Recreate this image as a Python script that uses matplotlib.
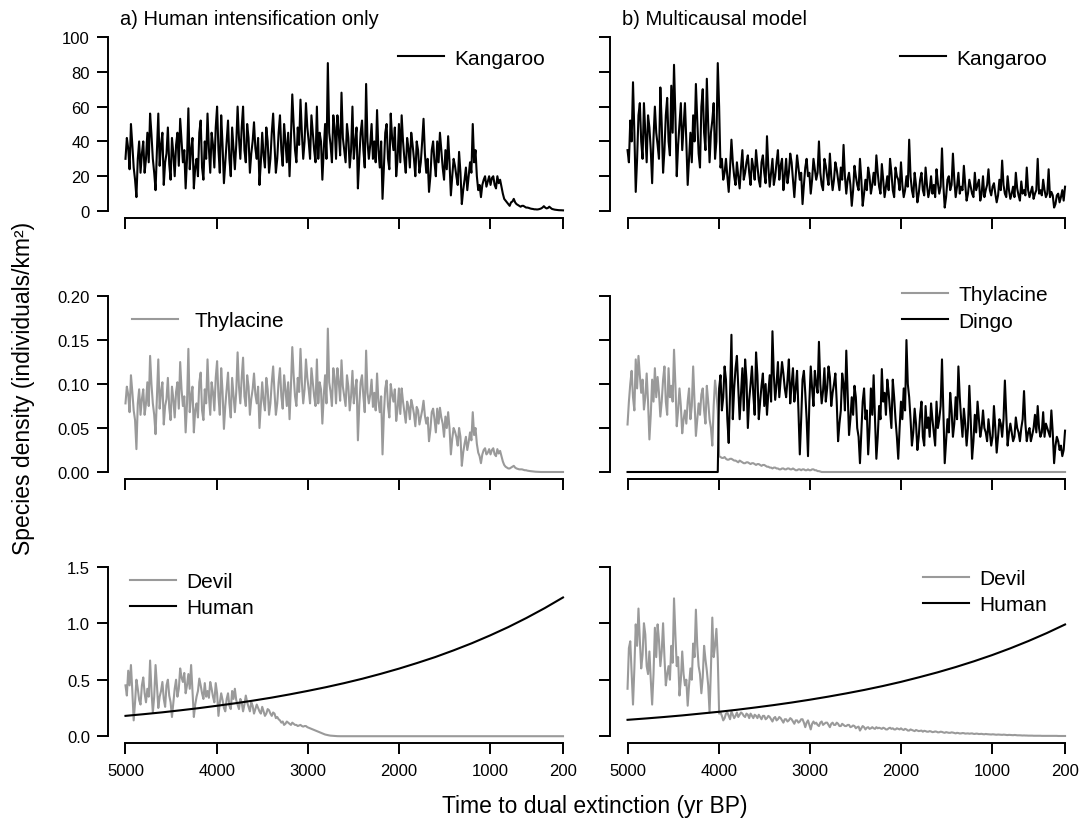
#!/usr/bin/env python3
"""Species density trajectories: human-only vs multicausal model."""

import numpy as np
import matplotlib
matplotlib.use('Agg')
import matplotlib.pyplot as plt
from matplotlib.ticker import FormatStrFormatter


GREY = '#9a9a9a'
BLACK = '#000000'

# years before present, first to last sample (time runs 5000 -> 200, every 15 yr)
T_START, T_END = 5000, 200

# a) human intensification only
kangaroo_a = [
    30, 42, 36, 24, 50, 38, 25, 18, 8, 30, 40, 22, 33, 40, 22, 30, 45, 28, 56, 44,
    30, 22, 12, 35, 56, 26, 38, 45, 15, 28, 33, 48, 27, 18, 42, 33, 20, 38, 45, 26,
    53, 40, 28, 35, 13, 30, 59, 24, 35, 42, 13, 25, 30, 20, 45, 52, 25, 18, 40, 30,
    56, 36, 22, 45, 38, 25, 48, 60, 35, 22, 55, 38, 16, 28, 40, 52, 30, 20, 48, 36,
    24, 38, 60, 42, 30, 48, 60, 35, 28, 50, 42, 22, 33, 40, 51, 36, 30, 42, 15, 28,
    45, 32, 25, 48, 40, 22, 30, 45, 56, 38, 22, 30, 45, 55, 35, 26, 50, 40, 28, 45,
    20, 42, 67, 50, 35, 28, 48, 38, 64, 45, 30, 40, 62, 48, 40, 30, 55, 45, 35, 28,
    60, 30, 45, 40, 18, 35, 50, 30, 85, 45, 38, 28, 55, 48, 30, 55, 45, 32, 68, 42,
    35, 28, 50, 42, 25, 35, 60, 30, 40, 48, 13, 30, 45, 52, 35, 25, 73, 40, 30, 38,
    50, 30, 40, 28, 58, 35, 25, 40, 7, 25, 45, 50, 30, 24, 56, 42, 35, 48, 20, 30,
    50, 28, 55, 40, 30, 22, 42, 36, 25, 45, 38, 30, 20, 40, 35, 22, 28, 40, 53, 33,
    22, 30, 11, 20, 35, 40, 28, 20, 40, 28, 45, 35, 25, 18, 35, 24, 43, 28, 9, 20,
    30, 26, 20, 15, 34, 22, 4, 12, 18, 25, 12, 20, 28, 22, 50, 28, 35, 20, 12, 15,
    8, 15, 18, 20, 14, 17, 20, 15, 19, 20, 15, 13, 20, 16, 18, 14, 10, 7, 6, 5,
    4, 3, 5, 5.5, 7, 5, 4, 3.5, 3, 2.5, 3, 3, 2.5, 2, 2, 1.8, 1.5, 1.3, 1.2, 1,
    1, 0.9, 1, 1.2, 1.5, 2, 2.8, 2, 1.5, 1.8, 2.5, 1.8, 1.2, 1, 0.8, 0.7, 0.6, 0.5, 0.5, 0.45,
    0.4,
]
thylacine_a = [
    0.078, 0.097, 0.088, 0.068, 0.110, 0.091, 0.070, 0.059, 0.026, 0.078,
    0.094, 0.065, 0.083, 0.094, 0.065, 0.078, 0.102, 0.075, 0.132, 0.100,
    0.078, 0.065, 0.043, 0.086, 0.128, 0.072, 0.091, 0.102, 0.054, 0.075,
    0.083, 0.107, 0.073, 0.059, 0.097, 0.083, 0.062, 0.091, 0.102, 0.072,
    0.125, 0.094, 0.075, 0.086, 0.045, 0.078, 0.140, 0.068, 0.086, 0.097,
    0.045, 0.070, 0.078, 0.062, 0.102, 0.113, 0.070, 0.059, 0.094, 0.078,
    0.128, 0.088, 0.065, 0.102, 0.091, 0.070, 0.107, 0.126, 0.086, 0.065,
    0.118, 0.091, 0.049, 0.075, 0.094, 0.113, 0.078, 0.062, 0.107, 0.088,
    0.068, 0.091, 0.136, 0.097, 0.078, 0.107, 0.130, 0.086, 0.075, 0.110,
    0.097, 0.065, 0.083, 0.094, 0.112, 0.088, 0.078, 0.097, 0.050, 0.075,
    0.102, 0.081, 0.070, 0.107, 0.094, 0.065, 0.078, 0.102, 0.120, 0.091,
    0.065, 0.078, 0.102, 0.118, 0.086, 0.072, 0.110, 0.094, 0.075, 0.102,
    0.060, 0.097, 0.142, 0.110, 0.086, 0.075, 0.107, 0.091, 0.140, 0.102,
    0.078, 0.094, 0.128, 0.107, 0.094, 0.078, 0.118, 0.102, 0.086, 0.075,
    0.128, 0.078, 0.102, 0.094, 0.055, 0.086, 0.110, 0.078, 0.163, 0.102,
    0.091, 0.075, 0.118, 0.107, 0.078, 0.118, 0.102, 0.081, 0.127, 0.097,
    0.086, 0.075, 0.110, 0.097, 0.070, 0.086, 0.115, 0.078, 0.094, 0.105,
    0.036, 0.076, 0.102, 0.110, 0.086, 0.068, 0.138, 0.090, 0.078, 0.088,
    0.105, 0.074, 0.090, 0.070, 0.112, 0.080, 0.068, 0.086, 0.020, 0.066,
    0.095, 0.104, 0.075, 0.062, 0.100, 0.088, 0.080, 0.094, 0.058, 0.072,
    0.095, 0.066, 0.095, 0.080, 0.068, 0.056, 0.080, 0.074, 0.060, 0.082,
    0.075, 0.066, 0.052, 0.074, 0.070, 0.054, 0.062, 0.070, 0.081, 0.064,
    0.055, 0.062, 0.035, 0.048, 0.068, 0.072, 0.060, 0.045, 0.072, 0.055,
    0.073, 0.062, 0.055, 0.040, 0.063, 0.050, 0.068, 0.050, 0.020, 0.038,
    0.050, 0.046, 0.040, 0.030, 0.050, 0.040, 0.007, 0.022, 0.032, 0.040,
    0.025, 0.034, 0.045, 0.036, 0.068, 0.042, 0.050, 0.032, 0.022, 0.018,
    0.010, 0.020, 0.025, 0.027, 0.020, 0.022, 0.026, 0.020, 0.025, 0.027,
    0.020, 0.018, 0.026, 0.021, 0.024, 0.018, 0.012, 0.008, 0.006, 0.005,
    0.004, 0.004, 0.005, 0.006, 0.007, 0.005, 0.004, 0.0035, 0.003, 0.003,
    0.003, 0.0025, 0.002, 0.002, 0.0015, 0.0012, 0.001, 0.0008, 0.0005, 0.0004,
    0.0003, 0.0002, 0, 0, 0, 0, 0, 0, 0, 0,
    0, 0, 0, 0, 0, 0, 0, 0, 0, 0,
    0,
]
devil_a = [
    0.45, 0.36, 0.58, 0.45, 0.63, 0.40, 0.14, 0.30, 0.50, 0.42,
    0.32, 0.28, 0.45, 0.52, 0.38, 0.30, 0.42, 0.35, 0.67, 0.40,
    0.21, 0.35, 0.63, 0.45, 0.25, 0.35, 0.40, 0.48, 0.33, 0.26,
    0.45, 0.50, 0.36, 0.30, 0.17, 0.30, 0.42, 0.50, 0.35, 0.42,
    0.60, 0.52, 0.48, 0.56, 0.38, 0.45, 0.55, 0.42, 0.63, 0.40,
    0.17, 0.28, 0.35, 0.40, 0.51, 0.45, 0.38, 0.33, 0.47, 0.35,
    0.40, 0.34, 0.48, 0.42, 0.35, 0.30, 0.47, 0.38, 0.18, 0.30,
    0.38, 0.32, 0.25, 0.22, 0.33, 0.38, 0.27, 0.24, 0.40, 0.33,
    0.42, 0.32, 0.28, 0.24, 0.33, 0.30, 0.22, 0.28, 0.36, 0.30,
    0.26, 0.22, 0.30, 0.27, 0.20, 0.24, 0.28, 0.25, 0.22, 0.20,
    0.26, 0.22, 0.18, 0.20, 0.24, 0.23, 0.20, 0.18, 0.21, 0.20,
    0.16, 0.17, 0.15, 0.14, 0.12, 0.13, 0.10, 0.11, 0.13, 0.12,
    0.11, 0.10, 0.12, 0.11, 0.10, 0.10, 0.09, 0.095, 0.10, 0.09,
    0.085, 0.09, 0.09, 0.08, 0.075, 0.07, 0.065, 0.06, 0.055, 0.05,
    0.045, 0.04, 0.035, 0.03, 0.025, 0.02, 0.015, 0.012, 0.009, 0.007,
    0.005, 0.004, 0.003, 0.002, 0.001, 0.0005, 0, 0, 0, 0,
    0, 0, 0, 0, 0, 0, 0, 0, 0, 0, 0, 0, 0, 0, 0, 0, 0, 0, 0, 0,
    0, 0, 0, 0, 0, 0, 0, 0, 0, 0, 0, 0, 0, 0, 0, 0, 0, 0, 0, 0,
    0, 0, 0, 0, 0, 0, 0, 0, 0, 0, 0, 0, 0, 0, 0, 0, 0, 0, 0, 0,
    0, 0, 0, 0, 0, 0, 0, 0, 0, 0, 0, 0, 0, 0, 0, 0, 0, 0, 0, 0,
    0, 0, 0, 0, 0, 0, 0, 0, 0, 0, 0, 0, 0, 0, 0, 0, 0, 0, 0, 0,
    0, 0, 0, 0, 0, 0, 0, 0, 0, 0, 0, 0, 0, 0, 0, 0, 0, 0, 0, 0,
    0, 0, 0, 0, 0, 0, 0, 0, 0, 0, 0, 0, 0, 0, 0, 0, 0, 0, 0, 0,
    0, 0, 0, 0, 0, 0, 0, 0, 0, 0, 0, 0, 0, 0, 0, 0, 0, 0, 0, 0,
    0,
]
human_years = [5000, 4800, 4600, 4400, 4200, 4000, 3800, 3600, 3400, 3200,
               3000, 2800, 2600, 2400, 2200, 2000, 1800, 1600, 1400, 1200,
               1000, 800, 600, 400, 200]
human_a = [0.180, 0.195, 0.211, 0.229, 0.248, 0.269, 0.291, 0.315, 0.341, 0.370,
           0.401, 0.434, 0.470, 0.509, 0.552, 0.598, 0.648, 0.701, 0.760, 0.823,
           0.892, 0.966, 1.047, 1.134, 1.228]

# b) multicausal model
kangaroo_b = [
    35, 28, 52, 40, 74, 45, 11, 30, 55, 62, 40, 30, 62, 45, 28, 55, 48, 35, 16, 42,
    60, 45, 38, 30, 71, 50, 22, 35, 55, 65, 40, 32, 72, 45, 84, 55, 20, 38, 50, 62,
    35, 48, 62, 40, 15, 30, 45, 28, 55, 40, 73, 52, 33, 25, 60, 70, 45, 35, 76, 50,
    28, 45, 52, 62, 30, 40, 85, 60, 25, 30, 18, 22, 30, 20, 11, 25, 41, 28, 20, 15,
    28, 20, 13, 25, 35, 18, 22, 28, 32, 22, 15, 30, 25, 18, 35, 26, 18, 14, 28, 32,
    22, 16, 43, 25, 14, 22, 30, 15, 20, 28, 35, 18, 26, 30, 12, 20, 30, 16, 22, 33,
    28, 18, 8, 20, 32, 25, 18, 22, 4, 15, 25, 30, 20, 22, 10, 18, 30, 24, 18, 22,
    40, 22, 15, 12, 30, 26, 20, 15, 33, 20, 12, 18, 28, 24, 18, 12, 25, 18, 38, 20,
    10, 18, 22, 15, 3, 12, 26, 20, 15, 12, 30, 18, 3, 10, 18, 12, 25, 20, 10, 15,
    22, 15, 32, 22, 14, 10, 27, 18, 8, 14, 20, 12, 30, 22, 12, 8, 25, 20, 18, 12,
    28, 15, 8, 12, 20, 14, 41, 20, 12, 8, 22, 15, 5, 10, 18, 22, 12, 9, 25, 15,
    8, 12, 20, 10, 15, 8, 24, 16, 10, 14, 36, 15, 2, 8, 18, 20, 12, 15, 33, 18,
    8, 14, 22, 10, 14, 12, 26, 15, 6, 10, 18, 14, 10, 8, 22, 12, 15, 18, 6, 10,
    20, 8, 12, 15, 24, 12, 9, 14, 16, 10, 5, 9, 18, 12, 29, 15, 10, 8, 20, 12,
    7, 10, 14, 8, 22, 13, 9, 6, 17, 10, 12, 9, 25, 12, 8, 11, 14, 7, 10, 12,
    30, 10, 12, 9, 18, 12, 8, 10, 24, 8, 11, 9, 2, 4, 9, 10, 5, 8, 12, 6,
    14,
]
thylacine_b = [
    0.054, 0.080, 0.100, 0.115, 0.085, 0.070, 0.128, 0.095, 0.132, 0.110,
    0.090, 0.105, 0.071, 0.085, 0.112, 0.080, 0.037, 0.065, 0.105, 0.080,
    0.118, 0.085, 0.108, 0.090, 0.063, 0.080, 0.105, 0.120, 0.080, 0.065,
    0.118, 0.085, 0.098, 0.080, 0.139, 0.100, 0.052, 0.070, 0.095, 0.075,
    0.044, 0.060, 0.070, 0.055, 0.080, 0.095, 0.060, 0.075, 0.120, 0.080,
    0.041, 0.060, 0.078, 0.065, 0.088, 0.095, 0.070, 0.055, 0.098, 0.080,
    0.060, 0.050, 0.030, 0.075, 0.104, 0.090, 0.070, 0.018, 0.017, 0.016,
    0.016, 0.017, 0.015, 0.014, 0.014, 0.015, 0.015, 0.014, 0.013, 0.013,
    0.012, 0.011, 0.013, 0.012, 0.011, 0.010, 0.010, 0.011, 0.011, 0.010,
    0.009, 0.010, 0.010, 0.009, 0.008, 0.009, 0.009, 0.008, 0.007, 0.008,
    0.008, 0.007, 0.006, 0.006, 0.005, 0.005, 0.004, 0.005, 0.005, 0.004,
    0.004, 0.003, 0.003, 0.004, 0.004, 0.003, 0.003, 0.004, 0.004, 0.003,
    0.003, 0.004, 0.003, 0.002, 0.002, 0.003, 0.003, 0.002, 0.003, 0.003,
    0.002, 0.002, 0.003, 0.002, 0.002, 0.003, 0.003, 0.002, 0.002, 0.001,
    0.001, 0.0005, 0, 0, 0, 0, 0, 0, 0, 0, 0, 0, 0, 0, 0, 0, 0, 0, 0, 0,
    0, 0, 0, 0, 0, 0, 0, 0, 0, 0, 0, 0, 0, 0, 0, 0, 0, 0, 0, 0,
    0, 0, 0, 0, 0, 0, 0, 0, 0, 0, 0, 0, 0, 0, 0, 0, 0, 0, 0, 0,
    0, 0, 0, 0, 0, 0, 0, 0, 0, 0, 0, 0, 0, 0, 0, 0, 0, 0, 0, 0,
    0, 0, 0, 0, 0, 0, 0, 0, 0, 0, 0, 0, 0, 0, 0, 0, 0, 0, 0, 0,
    0, 0, 0, 0, 0, 0, 0, 0, 0, 0, 0, 0, 0, 0, 0, 0, 0, 0, 0, 0,
    0, 0, 0, 0, 0, 0, 0, 0, 0, 0, 0, 0, 0, 0, 0, 0, 0, 0, 0, 0,
    0, 0, 0, 0, 0, 0, 0, 0, 0, 0, 0, 0, 0, 0, 0, 0, 0, 0, 0, 0,
    0, 0, 0, 0, 0, 0, 0, 0, 0, 0, 0, 0, 0, 0, 0, 0, 0, 0, 0, 0,
    0,
]
dingo_b = [
    0, 0, 0, 0, 0, 0, 0, 0, 0, 0, 0, 0, 0, 0, 0, 0, 0, 0, 0, 0,
    0, 0, 0, 0, 0, 0, 0, 0, 0, 0, 0, 0, 0, 0, 0, 0, 0, 0, 0, 0,
    0, 0, 0, 0, 0, 0, 0, 0, 0, 0, 0, 0, 0, 0, 0, 0, 0, 0, 0, 0,
    0, 0, 0, 0, 0, 0, 0, 0.095, 0.110, 0.070,
    0.085, 0.120, 0.105, 0.060, 0.033, 0.090, 0.156, 0.060, 0.095, 0.118,
    0.132, 0.095, 0.060, 0.090, 0.118, 0.070, 0.128, 0.105, 0.050, 0.082,
    0.100, 0.120, 0.088, 0.065, 0.136, 0.110, 0.060, 0.080, 0.098, 0.112,
    0.075, 0.100, 0.065, 0.090, 0.110, 0.080, 0.160, 0.110, 0.082, 0.100,
    0.125, 0.085, 0.105, 0.125, 0.112, 0.095, 0.085, 0.105, 0.128, 0.078,
    0.100, 0.118, 0.080, 0.095, 0.115, 0.070, 0.020, 0.060, 0.105, 0.115,
    0.090, 0.060, 0.018, 0.080, 0.120, 0.095, 0.075, 0.115, 0.100, 0.090,
    0.148, 0.100, 0.078, 0.092, 0.118, 0.080, 0.095, 0.120, 0.108, 0.075,
    0.090, 0.100, 0.112, 0.080, 0.035, 0.055, 0.070, 0.112, 0.100, 0.070,
    0.138, 0.090, 0.042, 0.060, 0.085, 0.065, 0.098, 0.085, 0.050, 0.040,
    0.010, 0.045, 0.080, 0.095, 0.060, 0.070, 0.020, 0.050, 0.095, 0.065,
    0.110, 0.060, 0.015, 0.040, 0.075, 0.060, 0.117, 0.080, 0.090, 0.065,
    0.105, 0.090, 0.070, 0.050, 0.105, 0.085, 0.060, 0.040, 0.015, 0.050,
    0.080, 0.060, 0.095, 0.070, 0.150, 0.100, 0.085, 0.060, 0.030, 0.045,
    0.072, 0.055, 0.025, 0.040, 0.065, 0.080, 0.040, 0.030, 0.075, 0.050,
    0.062, 0.040, 0.078, 0.060, 0.045, 0.030, 0.080, 0.050, 0.060, 0.075,
    0.128, 0.070, 0.010, 0.035, 0.060, 0.045, 0.090, 0.070, 0.040, 0.055,
    0.085, 0.060, 0.120, 0.085, 0.060, 0.040, 0.072, 0.055, 0.030, 0.050,
    0.098, 0.060, 0.015, 0.035, 0.065, 0.045, 0.080, 0.060, 0.040, 0.050,
    0.070, 0.050, 0.045, 0.035, 0.060, 0.045, 0.030, 0.040, 0.075, 0.050,
    0.022, 0.040, 0.060, 0.055, 0.040, 0.060, 0.104, 0.065, 0.030, 0.045,
    0.055, 0.045, 0.035, 0.040, 0.062, 0.050, 0.045, 0.035, 0.050, 0.060,
    0.092, 0.055, 0.035, 0.045, 0.050, 0.035, 0.042, 0.050, 0.065, 0.045,
    0.075, 0.050, 0.040, 0.045, 0.068, 0.040, 0.055, 0.050, 0.045, 0.040,
    0.070, 0.045, 0.010, 0.030, 0.040, 0.035, 0.025, 0.030, 0.018, 0.025,
    0.047,
]
devil_b = [
    0.42, 0.78, 0.84, 0.55, 0.28, 0.60, 0.99, 0.80, 1.13, 0.85,
    0.60, 0.72, 1.00, 0.90, 0.62, 0.55, 0.75, 0.50, 0.28, 0.55,
    0.96, 0.70, 0.99, 0.85, 0.62, 0.75, 1.00, 0.70, 0.45, 0.55,
    0.62, 0.50, 0.80, 0.65, 1.22, 0.90, 0.62, 0.70, 0.36, 0.50,
    0.75, 0.55, 0.45, 0.50, 0.27, 0.45, 0.60, 0.50, 0.82, 0.70,
    1.12, 0.80, 0.62, 0.55, 0.38, 0.52, 0.80, 0.68, 0.58, 0.45,
    0.21, 0.60, 1.05, 0.70, 0.80, 0.95, 0.69, 0.20, 0.21, 0.18,
    0.14, 0.16, 0.20, 0.21, 0.18, 0.15, 0.22, 0.19, 0.16, 0.18,
    0.21, 0.17, 0.19, 0.21, 0.20, 0.18, 0.17, 0.20, 0.19, 0.16,
    0.20, 0.18, 0.16, 0.19, 0.18, 0.16, 0.19, 0.17, 0.15, 0.18,
    0.18, 0.15, 0.16, 0.18, 0.17, 0.15, 0.13, 0.16, 0.17, 0.14,
    0.15, 0.17, 0.16, 0.14, 0.12, 0.15, 0.15, 0.13, 0.14, 0.16,
    0.15, 0.13, 0.11, 0.14, 0.14, 0.12, 0.13, 0.15, 0.15, 0.12,
    0.08, 0.12, 0.14, 0.10, 0.06, 0.11, 0.13, 0.11, 0.12, 0.10,
    0.09, 0.12, 0.13, 0.10, 0.11, 0.12, 0.12, 0.10, 0.08, 0.11,
    0.12, 0.10, 0.10, 0.12, 0.11, 0.09, 0.09, 0.11, 0.10, 0.09,
    0.09, 0.10, 0.10, 0.08, 0.085, 0.095, 0.09, 0.07, 0.08, 0.085,
    0.05, 0.07, 0.09, 0.08, 0.06, 0.075, 0.08, 0.065, 0.07, 0.08,
    0.07, 0.065, 0.08, 0.07, 0.075, 0.07, 0.065, 0.075, 0.07, 0.06,
    0.06, 0.07, 0.075, 0.065, 0.07, 0.06, 0.06, 0.07, 0.065, 0.06,
    0.07, 0.06, 0.055, 0.065, 0.06, 0.05, 0.05, 0.06, 0.055, 0.05,
    0.045, 0.055, 0.05, 0.045, 0.048, 0.05, 0.04, 0.048, 0.045, 0.04,
    0.04, 0.045, 0.042, 0.036, 0.038, 0.042, 0.04, 0.034, 0.035, 0.04,
    0.038, 0.033, 0.03, 0.036, 0.033, 0.03, 0.03, 0.034, 0.032, 0.028,
    0.025, 0.03, 0.028, 0.024, 0.025, 0.028, 0.027, 0.023, 0.024, 0.025,
    0.022, 0.024, 0.025, 0.021, 0.02, 0.023, 0.022, 0.019, 0.02, 0.021,
    0.018, 0.017, 0.02, 0.018, 0.017, 0.016, 0.015, 0.017, 0.016, 0.014,
    0.013, 0.015, 0.014, 0.013, 0.012, 0.014, 0.013, 0.011, 0.01, 0.012,
    0.011, 0.01, 0.009, 0.011, 0.01, 0.008, 0.008, 0.008, 0.007, 0.006,
    0.007, 0.006, 0.006, 0.005, 0.005, 0.005, 0.005, 0.004, 0.004, 0.004,
    0.004, 0.004, 0.004, 0.003, 0.003, 0.003, 0.003, 0.003, 0.003, 0.003,
    0.003, 0.003, 0.003, 0.003, 0.003, 0.002, 0.002, 0.002, 0.002, 0.002,
    0.002,
]
human_b = [0.145, 0.157, 0.170, 0.184, 0.200, 0.216, 0.234, 0.254, 0.275, 0.298,
           0.323, 0.350, 0.379, 0.410, 0.444, 0.481, 0.522, 0.565, 0.612, 0.663,
           0.718, 0.778, 0.843, 0.913, 0.989]

XTICKS = [5000, 4000, 3000, 2000, 1000, 200]
ROW_YMAX = [100, 0.20, 1.5]
ROW_YSTEP = [20, 0.05, 0.5]
ROW_YFMT = ['%d', '%.2f', '%.1f']

# axes boxes in figure fraction (left, bottom, width, height)
COL_LEFT = [0.0998, 0.5638]
COL_WIDTH = 0.4367
ROW_BOX = [(0.7329, 0.2293), (0.4146, 0.2317), (0.0927, 0.2232)]


def years(values):
    return np.linspace(T_START, T_END, len(values))


def style_axis(ax, row, col):
    ymax = ROW_YMAX[row]
    pad = 0.04 * ymax
    span = T_START - T_END
    ax.set_xlim(T_START + 0.04 * span, T_END - 0.04 * span)
    ax.set_ylim(-pad, ymax + pad)
    for side in ['top', 'right']:
        ax.spines[side].set_visible(False)
    ax.spines['left'].set_bounds(0, ymax)
    ax.spines['bottom'].set_bounds(T_START, T_END)
    for side in ['left', 'bottom']:
        ax.spines[side].set_linewidth(1.4)
    ax.set_xticks(XTICKS)
    ax.set_yticks(np.arange(0, ymax + ROW_YSTEP[row] / 2, ROW_YSTEP[row]))
    ax.yaxis.set_major_formatter(FormatStrFormatter(ROW_YFMT[row]))
    ax.tick_params(direction='out', length=8, width=1.4, labelsize=12, pad=5)
    ax.tick_params(axis='x', pad=6.5, labelbottom=(row == 2))
    ax.tick_params(axis='y', labelleft=(col == 0))


def add_legend(ax, handles, x, y, textpad=0.5):
    ax.legend(handles=handles, loc='center left', bbox_to_anchor=(x, y),
              frameon=False, borderpad=0, borderaxespad=0, fontsize=15,
              handlelength=2.2, handletextpad=textpad, labelspacing=0.35)


def main():
    plt.rcParams['font.family'] = ['Liberation Sans', 'DejaVu Sans']
    fig = plt.figure(figsize=(10.82, 8.2), dpi=100)
    axes = [[fig.add_axes([COL_LEFT[c], b, COL_WIDTH, h]) for c in range(2)]
            for (b, h) in ROW_BOX]
    for r in range(3):
        for c in range(2):
            style_axis(axes[r][c], r, c)

    lw = 1.5
    # a) human intensification only
    ax = axes[0][0]
    k, = ax.plot(years(kangaroo_a), kangaroo_a, color=BLACK, lw=lw, label='Kangaroo')
    add_legend(ax, [k], 0.614, 0.851)
    ax.text(0.025, 1.032, 'a) Human intensification only', transform=ax.transAxes,
            fontsize=14.5, va='baseline', ha='left')

    ax = axes[1][0]
    t, = ax.plot(years(thylacine_a), thylacine_a, color=GREY, lw=lw, label='Thylacine')
    add_legend(ax, [t], 0.051, 0.832, textpad=0.8)

    ax = axes[2][0]
    d, = ax.plot(years(devil_a), devil_a, color=GREY, lw=lw, label='Devil')
    h, = ax.plot(human_years, human_a, color=BLACK, lw=lw, label='Human')
    add_legend(ax, [d, h], 0.047, 0.81)

    # b) multicausal model
    ax = axes[0][1]
    k, = ax.plot(years(kangaroo_b), kangaroo_b, color=BLACK, lw=lw, label='Kangaroo')
    add_legend(ax, [k], 0.614, 0.851)
    ax.text(0.025, 1.032, 'b) Multicausal model', transform=ax.transAxes,
            fontsize=14.5, va='baseline', ha='left')

    ax = axes[1][1]
    t, = ax.plot(years(thylacine_b), thylacine_b, color=GREY, lw=lw, label='Thylacine')
    g, = ax.plot(years(dingo_b), dingo_b, color=BLACK, lw=lw, label='Dingo')
    add_legend(ax, [t, g], 0.618, 0.9)

    ax = axes[2][1]
    d, = ax.plot(years(devil_b), devil_b, color=GREY, lw=lw, label='Devil')
    h, = ax.plot(human_years, human_b, color=BLACK, lw=lw, label='Human')
    add_legend(ax, [d, h], 0.662, 0.828)

    fig.text(0.022, 1 - 388 / 820, 'Species density (individuals/km\u00b2)',
             rotation=90, ha='center', va='center', fontsize=16.5)
    fig.text(595 / 1082, 1 - 807 / 820, 'Time to dual extinction (yr BP)',
             ha='center', va='center', fontsize=16.5)

    fig.savefig('out.png', dpi=100)


if __name__ == '__main__':
    main()
